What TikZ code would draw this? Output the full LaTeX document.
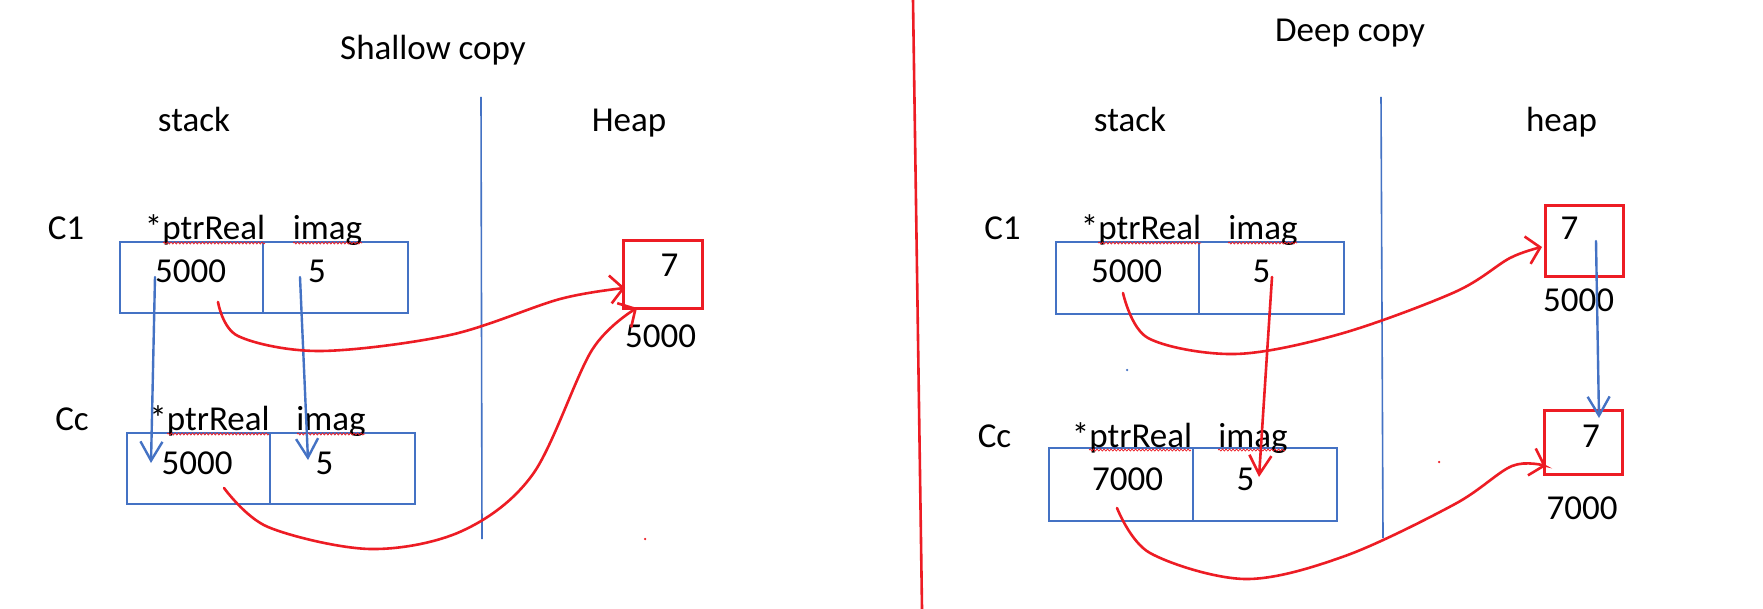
\documentclass[tikz,border=0pt]{standalone}
\usepackage{fontspec}
\setmainfont{Carlito}
\usetikzlibrary{arrows.meta,decorations.pathmorphing}
\definecolor{mblue}{RGB}{68,114,196}
\definecolor{mred}{RGB}{237,28,36}
\begin{document}
\begin{tikzpicture}[x=1pt,y=-1pt,
  txt/.style={inner sep=0pt, anchor=base, font=\fontsize{35}{42}\selectfont},
  cell/.style={draw=mblue, line width=2pt, inner sep=0pt},
  heapbox/.style={draw=mred, line width=3pt, inner sep=0pt},
  bluearrow/.style={draw=mblue, line width=2.4pt, line cap=round, -{Straight Barb[length=19pt,width=22pt]}},
  redarrow/.style={draw=mred, line width=2.6pt, line cap=round, -{Straight Barb[length=13pt,width=28pt]}},
  redline/.style={draw=mred, line width=2.6pt, line cap=round, -{Straight Barb[length=19pt,width=22pt]}},
  bdivider/.style={draw=mblue, line width=1.6pt},
  rdivider/.style={draw=mred, line width=2.6pt},
  squig/.style={draw=mred, line width=0.7pt, decorate, decoration={snake, amplitude=1pt, segment length=3.5pt}},
  dotb/.style={fill=mblue, circle, inner sep=0pt, minimum size=2.5pt},
  dotr/.style={fill=mred, circle, inner sep=0pt, minimum size=2.5pt}
]
\fill[white] (0,0) rectangle (1763,609);
\useasboundingbox (0,0) rectangle (1763,609);

% ---------- dividers ----------
\coordinate (rdT) at (913,0);
\coordinate (rdB) at (922,609);
\draw[rdivider] (rdT) -- (rdB);
\coordinate (bd1T) at (481,97);
\coordinate (bd1B) at (482,539);
\draw[bdivider] (bd1T) -- (bd1B);
\coordinate (bd2T) at (1381,97);
\coordinate (bd2B) at (1383,538);
\draw[bdivider] (bd2T) -- (bd2B);

% ---------- titles ----------
\node[txt] (shallow) at (433,60) {Shallow copy};
\node[txt] (deep) at (1350,42) {Deep copy};
\node[txt] (stackL) at (194,132) {stack};
\node[txt] (heapL) at (629,132) {Heap};
\node[txt] (stackR) at (1130,132) {stack};
\node[txt] (heapR) at (1561.5,132) {heap};

% ---------- left (shallow) ----------
\node[cell, minimum width=143pt, minimum height=71pt] (L1p) at (191.5,277.5) {};
\node[cell, minimum width=145pt, minimum height=71pt] (L1i) at (335.5,277.5) {};
\node[cell, minimum width=143pt, minimum height=71pt] (L2p) at (198.5,468.5) {};
\node[cell, minimum width=145pt, minimum height=71pt] (L2i) at (342.5,468.5) {};
\node[heapbox, minimum width=79pt, minimum height=68pt] (LH) at (662.5,275) {};

\node[txt] (LC1) at (66,240) {C1};
\node[txt] (LC1p) at (205,240) {*ptrReal};
\node[txt] (LC1i) at (327.5,240) {imag};
\node[txt] (LC1v) at (190.5,283) {5000};
\node[txt] (LC1w) at (317,283) {5};
\node[txt] (LCc) at (72,430) {Cc};
\node[txt] (LCcp) at (209.5,430) {*ptrReal};
\node[txt] (LCci) at (331,430) {imag};
\node[txt] (LCcv) at (197,474) {5000};
\node[txt] (LCcw) at (324.5,474) {5};
\node[txt] (LH7) at (669.5,277) {7};
\node[txt] (LHa) at (660.5,348) {5000};

\draw[squig] (163,243) -- (265,243);
\draw[squig] (293,243) -- (362,243);
\draw[squig] (167,434) -- (269,434);
\draw[squig] (297,434) -- (365,434);

\coordinate (la1s) at (155,277);
\coordinate (la1e) at (151,463);
\coordinate (la2s) at (300,277);
\coordinate (la2e) at (308,460);
\draw[bluearrow] (la1s) -- (la1e);
\draw[bluearrow] (la2s) -- (la2e);

\coordinate (lr1s) at (218,302);
\coordinate (lr1e) at (625,288);
\draw[redarrow] plot[smooth, tension=0.55] coordinates {(lr1s) (238,336) (320,351) (450,335) (560,299) (lr1e)};
\coordinate (lr2s) at (224,488);
\coordinate (lr2e) at (637,308);
\draw[redarrow] plot[smooth, tension=0.55] coordinates {(lr2s) (268,527) (370,549) (462,531) (533,474) (592,350) (lr2e)};

\node[dotr] (ldot) at (645,539) {};

% ---------- right (deep) ----------
\node[cell, minimum width=143pt, minimum height=72pt] (R1p) at (1127.5,278) {};
\node[cell, minimum width=145pt, minimum height=72pt] (R1i) at (1271.5,278) {};
\node[cell, minimum width=144pt, minimum height=73pt] (R2p) at (1121,484.5) {};
\node[cell, minimum width=144pt, minimum height=73pt] (R2i) at (1265,484.5) {};
\node[heapbox, minimum width=78pt, minimum height=71pt] (RH1) at (1584,241.5) {};
\node[heapbox, minimum width=78pt, minimum height=64pt] (RH2) at (1583,442) {};

\node[txt] (RC1) at (1002.5,240) {C1};
\node[txt] (RC1p) at (1141,240) {*ptrReal};
\node[txt] (RC1i) at (1263,240) {imag};
\node[txt] (RC1v) at (1126.5,283) {5000};
\node[txt] (RC1w) at (1261.5,283) {5};
\node[txt] (RCc) at (994.5,447) {Cc};
\node[txt] (RCcp) at (1132,447) {*ptrReal};
\node[txt] (RCci) at (1253,447) {imag};
\node[txt] (RCcv) at (1127.5,490) {7000};
\node[txt] (RCcw) at (1245.5,490) {5};
\node[txt] (RH1v) at (1569.5,240) {7};
\node[txt] (RH1a) at (1578.5,312) {5000};
\node[txt] (RH2v) at (1591,447) {7};
\node[txt] (RH2a) at (1582,519) {7000};

\draw[squig] (1098,243) -- (1201,243);
\draw[squig] (1228,243) -- (1297,243);
\draw[squig] (1089,450) -- (1191,450);
\draw[squig] (1218,450) -- (1285,450);

\coordinate (ra1s) at (1272,277);
\coordinate (ra1e) at (1259,477);
\draw[redline] (ra1s) -- (ra1e);
\coordinate (rb1s) at (1596,241);
\coordinate (rb1e) at (1599,418);
\draw[bluearrow] (rb1s) -- (rb1e);

\coordinate (rr1s) at (1123,293);
\coordinate (rr1e) at (1542,247);
\draw[redarrow] plot[smooth, tension=0.55] coordinates {(rr1s) (1148,338) (1235,354) (1340,334) (1455,292) (1510,258) (rr1e)};
\coordinate (rr2s) at (1117,508);
\coordinate (rr2e) at (1546,466);
\draw[redarrow] plot[smooth, tension=0.55] coordinates {(rr2s) (1150,553) (1245,579) (1345,556) (1455,504) (1512,466) (rr2e)};

\node[dotb] (rdot1) at (1127,370) {};
\node[dotr] (rdot2) at (1439,462) {};
\end{tikzpicture}
\end{document}
